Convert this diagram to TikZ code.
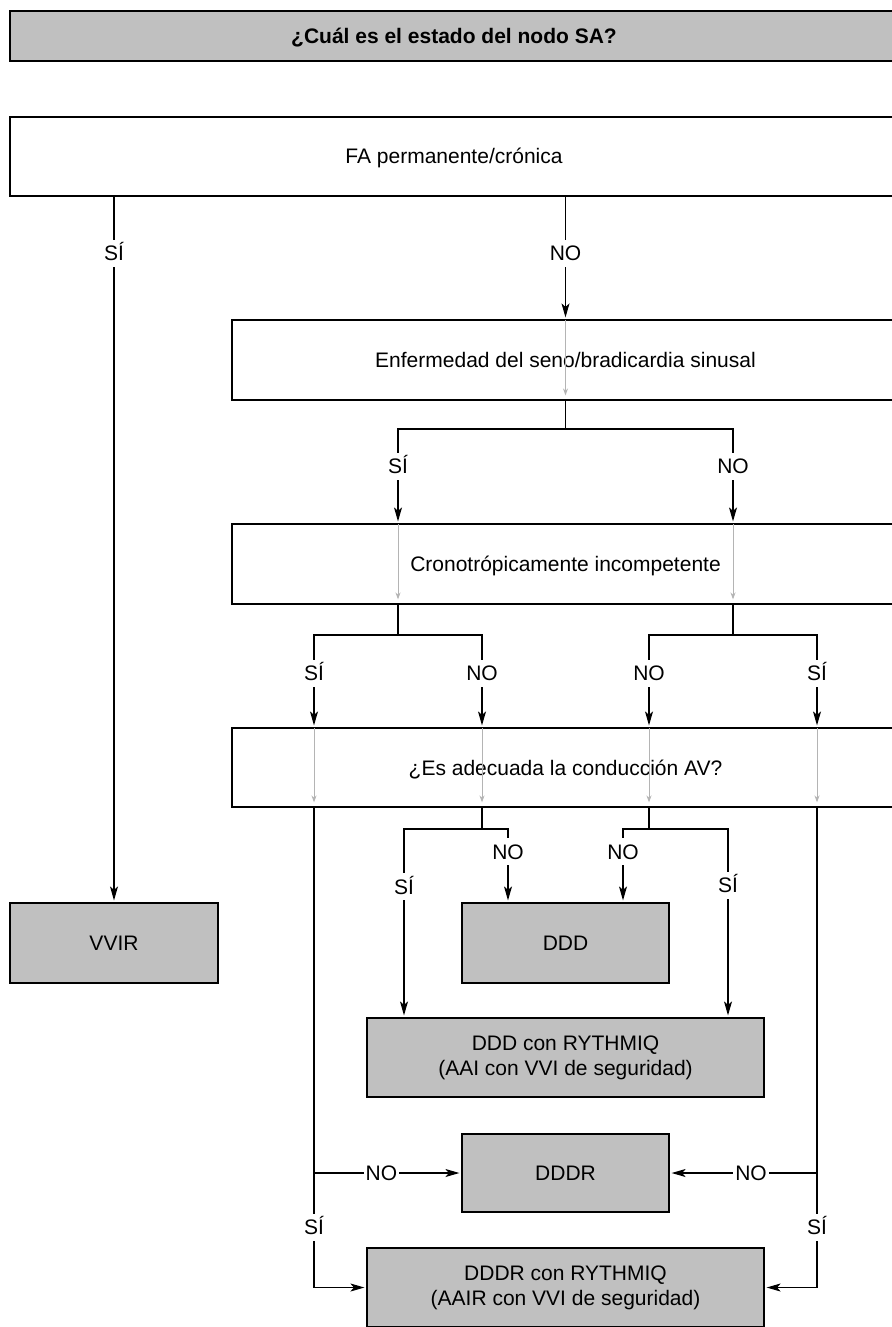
\documentclass[tikz,border=0pt]{standalone}
\usepackage{fontspec}
\setmainfont{Liberation Sans}
\usetikzlibrary{arrows.meta,positioning}
\definecolor{boxgray}{HTML}{C0C0C0}
\definecolor{passgray}{HTML}{B4B4B4}

\begin{document}
\begin{tikzpicture}[>={Stealth[length=14pt,width=8pt,inset=3.5pt]},x=1pt,y=-1pt,
  every node/.style={font=\fontsize{21}{25}\selectfont},
  box/.style={draw,line width=2.8pt,fill=white,inner sep=0pt,align=center},
  endbox/.style={box,fill=boxgray},
  oneline/.style={text height=15pt,text depth=0pt},
  link/.style={line width=1.1pt},
  flow/.style={link,->,shorten >=1.2pt},
  lbl/.style={fill=white,inner xsep=2pt,inner ysep=6pt,text height=15pt,text depth=0pt},
  pass/.style={draw=passgray,line width=1pt,-{Stealth[length=7pt,width=5pt]},shorten <=1.4pt,shorten >=6pt}]
\useasboundingbox (0,0) rectangle (891,1327);

\node[endbox,oneline,minimum width=888,minimum height=50,font=\fontsize{21}{25}\selectfont\bfseries] (title) at (454,36) {¿Cuál es el estado del nodo SA?};
\node[box,oneline,minimum width=888,minimum height=79] (fa) at (454,156.5) {FA permanente/crónica};
\node[box,oneline,minimum width=667,minimum height=80] (enf) at (565.5,360) {Enfermedad del seno/bradicardia sinusal};
\node[box,oneline,minimum width=667,minimum height=80] (crono) at (565.5,564) {Cronotrópicamente incompetente};
\node[box,oneline,minimum width=667,minimum height=79] (av) at (565.5,767.5) {¿Es adecuada la conducción AV?};
\node[endbox,oneline,minimum width=208,minimum height=80] (vvir) at (114,943) {VVIR};
\node[endbox,oneline,minimum width=207,minimum height=80] (ddd) at (565.5,943) {DDD};
\node[endbox,minimum width=397,minimum height=79] (dddry) at (565.5,1057.5) {DDD con RYTHMIQ\\(AAI con VVI de seguridad)};
\node[endbox,oneline,minimum width=207,minimum height=78] (dddr) at (565.5,1173) {DDDR};
\node[endbox,minimum width=397,minimum height=79] (dddrry) at (565.5,1287.5) {DDDR con RYTHMIQ\\(AAIR con VVI de seguridad)};

% columns and branch points
\coordinate (enfSi) at (398,0);
\coordinate (enfNo) at (733,0);
\coordinate (siSi) at (314,0);
\coordinate (siNo) at (482,0);
\coordinate (noNo) at (649,0);
\coordinate (noSi) at (817,0);
\coordinate (ddSi1) at (404,0);
\coordinate (ddNo1) at (508,0);
\coordinate (ddNo2) at (623,0);
\coordinate (ddSi2) at (728,0);
\coordinate (j1) at (565.5,429);
\coordinate (j2) at (398,635);
\coordinate (j3) at (733,635);
\coordinate (j4) at (482,829);
\coordinate (j5) at (649,829);

\draw[flow] (fa.south -| vvir.north) -- node[lbl,pos=0.079] {SÍ} (vvir.north);
\draw[flow] (fa.south -| enf.north) -- node[lbl,pos=0.46] {NO} (enf.north);
\draw[pass] (enf.north) -- (enf.south);

\draw[link] (enf.south) -- (j1);
\draw[flow] (j1) -| node[lbl,pos=0.7] {SÍ} (crono.north -| enfSi);
\draw[flow] (j1) -| node[lbl,pos=0.7] {NO} (crono.north -| enfNo);
\foreach \c in {enfSi,enfNo}
  \draw[pass] (crono.north -| \c) -- (crono.south -| \c);

\draw[link] (crono.south -| enfSi) -- (j2);
\draw[link] (crono.south -| enfNo) -- (j3);
\draw[flow] (j2) -| node[lbl,pos=0.71] {SÍ} (av.north -| siSi);
\draw[flow] (j2) -| node[lbl,pos=0.71] {NO} (av.north -| siNo);
\draw[flow] (j3) -| node[lbl,pos=0.71] {NO} (av.north -| noNo);
\draw[flow] (j3) -| node[lbl,pos=0.71] {SÍ} (av.north -| noSi);
\foreach \c in {siSi,siNo,noNo,noSi}
  \draw[pass] (av.north -| \c) -- (av.south -| \c);

\draw[link] (av.south -| siNo) -- (j4);
\draw[link] (av.south -| noNo) -- (j5);
\draw[flow] (j4) -| node[lbl,pos=0.654] {SÍ} (dddry.north -| ddSi1);
\draw[flow] (j4) -| node[lbl,pos=0.658] {NO} (ddd.north -| ddNo1);
\draw[flow] (j5) -| node[lbl,pos=0.658] {NO} (ddd.north -| ddNo2);
\draw[flow] (j5) -| node[lbl,pos=0.65] {SÍ} (dddry.north -| ddSi2);

\draw[flow] (av.south -| siSi) |- node[lbl,pos=0.437] {SÍ} (dddrry.west);
\draw[flow] (dddr.west -| siSi) -- node[lbl,pos=0.46] {NO} (dddr.west);
\draw[flow] (av.south -| noSi) |- node[lbl,pos=0.437] {SÍ} (dddrry.east);
\draw[flow] (dddr.east -| noSi) -- node[lbl,pos=0.45] {NO} (dddr.east);
\end{tikzpicture}
\end{document}
